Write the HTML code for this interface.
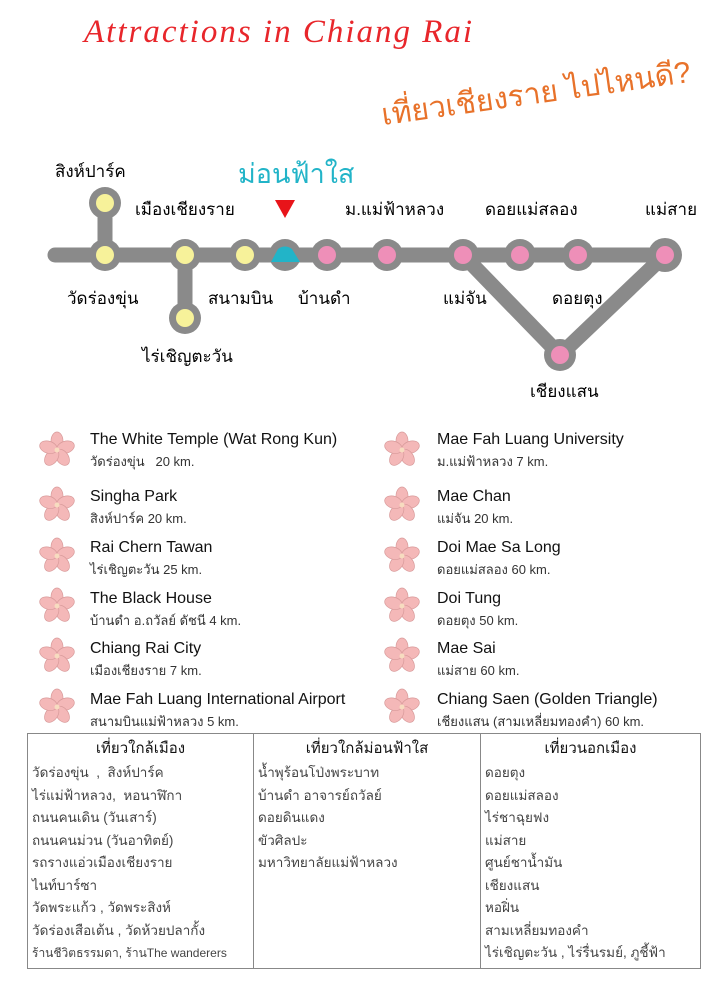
<!DOCTYPE html>
<html><head><meta charset="utf-8"><style>
body{margin:0;width:720px;height:986px;background:#fff;position:relative;overflow:hidden;font-family:"Liberation Sans","Noto Sans CJK SC",sans-serif;}
.a{position:absolute;white-space:nowrap}
.t{font-size:16px;color:#111;line-height:18px}
.s{font-size:13px;color:#333;line-height:16px}
table{position:absolute;left:27px;top:733px;width:674px;height:232px;border-collapse:collapse;border:1.5px solid #888}
td{vertical-align:top;border-left:1.5px solid #888;padding:2px 4px;font-size:13.5px;color:#444;line-height:22.5px}
th{font-size:15px;font-weight:normal;color:#111;padding:2px 0 0;height:22px;border-left:1.5px solid #888}
</style></head><body>
<div class="a" style="left:84px;top:14px;font-size:33px;color:#e8262b;font-family:'Liberation Serif',serif;font-style:italic;letter-spacing:2px">Attractions in Chiang Rai</div>
<div class="a" style="left:385px;top:92px;font-size:30px;color:#e8722a;transform:rotate(-8deg);transform-origin:left bottom">เที่ยวเชียงราย ไปไหนดี?</div>

<svg class="a" style="left:0;top:0" width="720" height="420">
<g stroke="#8a8a8a" stroke-width="15" stroke-linecap="round" fill="none">
<line x1="55" y1="255" x2="665" y2="255"/>
<line x1="105" y1="203" x2="105" y2="255"/>
<line x1="185" y1="255" x2="185" y2="318"/>
<polyline points="463,255 560,355 665,255"/>
</g>
<g fill="#8a8a8a">
<circle cx="105" cy="203" r="16"/><circle cx="105" cy="255" r="16"/><circle cx="185" cy="255" r="16"/><circle cx="185" cy="318" r="16"/><circle cx="245" cy="255" r="16"/><circle cx="285" cy="255" r="16"/><circle cx="327" cy="255" r="16"/><circle cx="387" cy="255" r="16"/><circle cx="463" cy="255" r="16"/><circle cx="520" cy="255" r="16"/><circle cx="578" cy="255" r="16"/><circle cx="665" cy="255" r="17"/><circle cx="560" cy="355" r="16"/>
</g>
<g fill="#f7f29a"><circle cx="105" cy="203" r="9"/><circle cx="105" cy="255" r="9"/><circle cx="185" cy="255" r="9"/><circle cx="185" cy="318" r="9"/><circle cx="245" cy="255" r="9"/></g>
<path d="M271 262 L278 249 Q285 244 292 249 L300 262 Z" fill="#22b4c8"/>
<g fill="#ee8fb8"><circle cx="327" cy="255" r="9"/><circle cx="387" cy="255" r="9"/><circle cx="463" cy="255" r="9"/><circle cx="520" cy="255" r="9"/><circle cx="578" cy="255" r="9"/><circle cx="665" cy="255" r="9"/><circle cx="560" cy="355" r="9"/></g>
<polygon points="275,200 295,200 285,218" fill="#e8141a"/>
</svg>
<div class="a" style="left:55px;top:158px;font-size:17px">สิงห์ปาร์ค</div>
<div class="a" style="left:238px;top:152px;font-size:27px;color:#22b4c8">ม่อนฟ้าใส</div>
<div class="a" style="left:135px;top:196px;font-size:17px">เมืองเชียงราย</div>
<div class="a" style="left:345px;top:196px;font-size:17px">ม.แม่ฟ้าหลวง</div>
<div class="a" style="left:485px;top:196px;font-size:17px">ดอยแม่สลอง</div>
<div class="a" style="left:645px;top:196px;font-size:17px">แม่สาย</div>
<div class="a" style="left:67px;top:285px;font-size:17px">วัดร่องขุ่น</div>
<div class="a" style="left:208px;top:285px;font-size:17px">สนามบิน</div>
<div class="a" style="left:298px;top:285px;font-size:17px">บ้านดำ</div>
<div class="a" style="left:443px;top:285px;font-size:17px">แม่จัน</div>
<div class="a" style="left:552px;top:285px;font-size:17px">ดอยตุง</div>
<div class="a" style="left:142px;top:343px;font-size:17px">ไร่เชิญตะวัน</div>
<div class="a" style="left:530px;top:378px;font-size:17px">เชียงแสน</div>

<svg width="0" height="0" style="position:absolute"><defs><g id="f">
<g fill="#f4b8b8" stroke="#d89a9a" stroke-width="0.7">
<ellipse cx="0" cy="-9" rx="6" ry="9"/><ellipse cx="0" cy="-9" rx="6" ry="9" transform="rotate(72)"/><ellipse cx="0" cy="-9" rx="6" ry="9" transform="rotate(144)"/><ellipse cx="0" cy="-9" rx="6" ry="9" transform="rotate(216)"/><ellipse cx="0" cy="-9" rx="6" ry="9" transform="rotate(288)"/></g><circle r="2.5" fill="#f7dcc0"/></g></defs></svg>
<svg class="a" style="left:0;top:420px" width="720" height="315">
<use href="#f" x="57" y="30"/><use href="#f" x="57" y="85"/><use href="#f" x="57" y="136"/><use href="#f" x="57" y="186"/><use href="#f" x="57" y="236"/><use href="#f" x="57" y="287"/>
<use href="#f" x="402" y="30"/><use href="#f" x="402" y="85"/><use href="#f" x="402" y="136"/><use href="#f" x="402" y="186"/><use href="#f" x="402" y="236"/><use href="#f" x="402" y="287"/>
</svg>
<div class="a t" style="left:90px;top:431px">The White Temple (Wat Rong Kun)</div><div class="a s" style="left:90px;top:454px">วัดร่องขุ่น &nbsp; 20 km.</div>
<div class="a t" style="left:90px;top:488px">Singha Park</div><div class="a s" style="left:90px;top:511px">สิงห์ปาร์ค 20 km.</div>
<div class="a t" style="left:90px;top:539px">Rai Chern Tawan</div><div class="a s" style="left:90px;top:562px">ไร่เชิญตะวัน 25 km.</div>
<div class="a t" style="left:90px;top:590px">The Black House</div><div class="a s" style="left:90px;top:613px">บ้านดำ อ.ถวัลย์ ดัชนี 4 km.</div>
<div class="a t" style="left:90px;top:640px">Chiang Rai City</div><div class="a s" style="left:90px;top:663px">เมืองเชียงราย 7 km.</div>
<div class="a t" style="left:90px;top:691px">Mae Fah Luang International Airport</div><div class="a s" style="left:90px;top:714px">สนามบินแม่ฟ้าหลวง 5 km.</div>
<div class="a t" style="left:437px;top:431px">Mae Fah Luang University</div><div class="a s" style="left:437px;top:454px">ม.แม่ฟ้าหลวง 7 km.</div>
<div class="a t" style="left:437px;top:488px">Mae Chan</div><div class="a s" style="left:437px;top:511px">แม่จัน 20 km.</div>
<div class="a t" style="left:437px;top:539px">Doi Mae Sa Long</div><div class="a s" style="left:437px;top:562px">ดอยแม่สลอง 60 km.</div>
<div class="a t" style="left:437px;top:590px">Doi Tung</div><div class="a s" style="left:437px;top:613px">ดอยตุง 50 km.</div>
<div class="a t" style="left:437px;top:640px">Mae Sai</div><div class="a s" style="left:437px;top:663px">แม่สาย 60 km.</div>
<div class="a t" style="left:437px;top:691px">Chiang Saen (Golden Triangle)</div><div class="a s" style="left:437px;top:714px">เชียงแสน (สามเหลี่ยมทองคำ) 60 km.</div>

<table>
<tr><th style="width:225px">เที่ยวใกล้เมือง</th><th style="width:226px">เที่ยวใกล้ม่อนฟ้าใส</th><th>เที่ยวนอกเมือง</th></tr>
<tr style="height:208px">
<td>วัดร่องขุ่น &nbsp;, &nbsp;สิงห์ปาร์ค<br>ไร่แม่ฟ้าหลวง, &nbsp;หอนาฬิกา<br>ถนนคนเดิน (วันเสาร์)<br>ถนนคนม่วน (วันอาทิตย์)<br>รถรางแอ่วเมืองเชียงราย<br>ไนท์บาร์ซา<br>วัดพระแก้ว , วัดพระสิงห์<br>วัดร่องเสือเต้น , วัดห้วยปลากั้ง<br><span style="font-size:12px">ร้านชีวิตธรรมดา, ร้านThe wanderers</span></td>
<td>น้ำพุร้อนโป่งพระบาท<br>บ้านดำ อาจารย์ถวัลย์<br>ดอยดินแดง<br>ขัวศิลปะ<br>มหาวิทยาลัยแม่ฟ้าหลวง</td>
<td>ดอยตุง<br>ดอยแม่สลอง<br>ไร่ชาฉุยฟง<br>แม่สาย<br>ศูนย์ชาน้ำมัน<br>เชียงแสน<br>หอฝิ่น<br>สามเหลี่ยมทองคำ<br>ไร่เชิญตะวัน , ไร่รื่นรมย์, ภูชี้ฟ้า</td>
</tr></table>
</body></html>
